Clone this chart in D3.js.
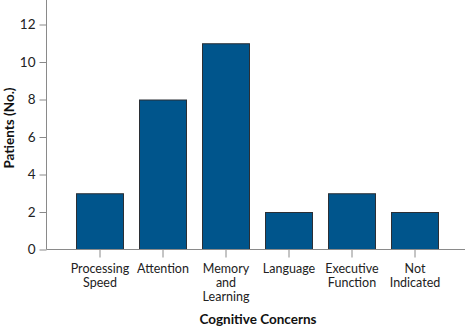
<!DOCTYPE html>
<html>
<head>
<meta charset="utf-8">
<script src="https://cdn.jsdelivr.net/npm/d3@7"></script>
<style>
  html, body { margin: 0; padding: 0; background: #fff; }
  svg { display: block; font-family: "Lato", "Open Sans", sans-serif; }
</style>
</head>
<body>
<svg id="chart" width="473" height="330"></svg>
<script>
// Cognitive concern categories (multi-line labels) and patient counts
const categories = [
  ["Processing", "Speed"],
  ["Attention"],
  ["Memory", "and", "Learning"],
  ["Language"],
  ["Executive", "Function"],
  ["Not", "Indicated"]
];
const patients = [3, 8, 11, 2, 3, 2];
const yTicks = [0, 2, 4, 6, 8, 10, 12];

const svg = d3.select("#chart");
const axisColor = "#8a8a8a";
const font = "Lato, 'Open Sans', sans-serif";
const x0 = 47, x1 = 465, yBase = 249.5, yTopPx = 0;

const keys = categories.map(c => c.join(" "));
const x = d3.scaleBand()
  .domain(keys)
  .range([68.5, 446.5])
  .paddingInner(15 / 63)
  .paddingOuter(7.5 / 63);

const y = d3.scaleLinear().domain([0, 12]).range([yBase, 24.5]);

// Bars
svg.append("g").selectAll("rect")
  .data(patients)
  .join("rect")
  .attr("x", (d, i) => x(keys[i]) + 0.5)
  .attr("y", d => y(d) + 0.5)
  .attr("width", x.bandwidth() - 1)
  .attr("height", d => yBase - y(d) - 0.5)
  .attr("fill", "#00558c")
  .attr("stroke", "#2b2f35")
  .attr("stroke-width", 1);

// Y axis
const yAxis = svg.append("g").attr("transform", `translate(${x0 - 0.5},0)`)
  .call(d3.axisLeft(y).tickValues(yTicks).tickSize(7).tickPadding(4).tickFormat(d3.format("d")));
yAxis.select(".domain").attr("d", `M0,${yTopPx}V${yBase}`).attr("stroke", axisColor);
yAxis.selectAll(".tick line").attr("stroke", axisColor);
yAxis.selectAll(".tick text").attr("font-size", 13.5).attr("fill", "#222")
  .attr("font-family", font);

// X axis
const xAxis = svg.append("g").attr("transform", `translate(0,${yBase})`)
  .call(d3.axisBottom(x).tickSize(8).tickFormat(""));
xAxis.select(".domain").attr("d", `M${x0 - 0.5},0H${x1}`).attr("stroke", axisColor);
xAxis.selectAll(".tick line").attr("stroke", axisColor);

// Multi-line category labels
xAxis.selectAll(".tick").each(function (d, i) {
  const t = d3.select(this).select("text")
    .attr("font-size", 12.5)
    .attr("fill", "#222")
    .attr("dy", null)
    .attr("y", 0)
    .attr("font-family", font);
  t.selectAll("tspan")
    .data(categories[i])
    .join("tspan")
    .attr("x", 0)
    .attr("y", (s, j) => 23.5 + j * 14)
    .text(s => s);
});

// Axis titles
svg.append("text")
  .attr("x", 258).attr("y", 324)
  .attr("text-anchor", "middle")
  .attr("font-family", font)
  .attr("font-size", 13.5).attr("font-weight", "bold").attr("fill", "#111")
  .text("Cognitive Concerns");

svg.append("text")
  .attr("transform", "translate(13.5,128) rotate(-90)")
  .attr("text-anchor", "middle")
  .attr("font-family", font)
  .attr("font-size", 13.5).attr("font-weight", "bold").attr("fill", "#111")
  .text("Patients (No.)");
</script>
</body>
</html>
